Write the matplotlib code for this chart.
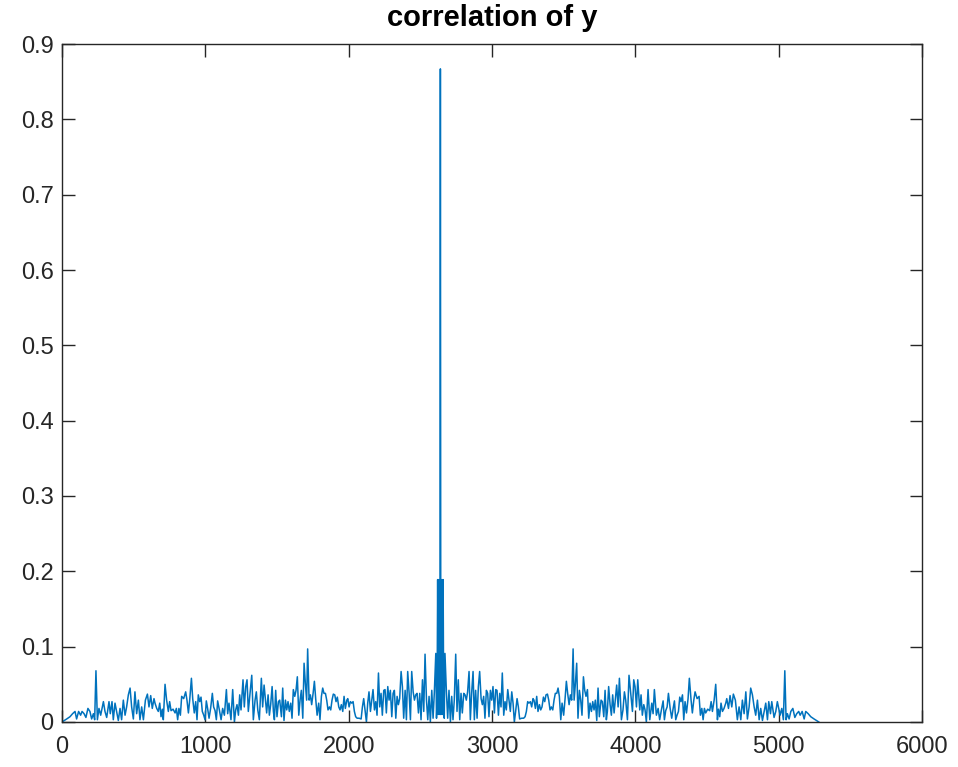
import matplotlib
matplotlib.use("Agg")
import matplotlib.pyplot as plt
import numpy as np

# left half of the autocorrelation (lag, value)
lag_left = [0, 33, 56, 74, 91, 102, 116, 130, 140, 154, 167, 181, 195, 207, 219, 228, 237, 247, 258, 270,
            289, 300, 312, 328, 337, 349, 358, 370, 381, 393, 405, 416, 428, 440, 451, 463, 475, 486, 498, 509,
            521, 533, 544, 556, 568, 582, 596, 607, 619, 630, 642,
            649, 661, 672, 682, 691, 700, 707, 719, 730, 742, 751, 761, 775, 789, 798, 807, 816, 826, 835, 849,
            863, 872, 882, 891, 903, 912, 923, 933, 942, 951, 961, 970, 979, 989, 998, 1007, 1016, 1026, 1037, 1049,
            1058, 1068, 1077, 1086, 1098, 1110, 1121, 1133, 1147, 1156, 1165, 1179, 1191, 1203, 1212, 1221, 1231,
            1240, 1249, 1263, 1272, 1282, 1291, 1300, 1312, 1324,
            1335, 1347, 1356, 1366, 1377, 1391, 1400, 1410, 1419, 1428, 1438, 1447, 1456, 1466, 1475, 1482, 1491,
            1500, 1510, 1519, 1531, 1540, 1549, 1559, 1568, 1577, 1586, 1596, 1605, 1614, 1624, 1633, 1642, 1652,
            1661, 1670, 1680, 1689, 1698, 1707, 1714, 1724, 1733, 1742, 1752, 1761, 1770, 1780, 1791, 1800, 1810,
            1819, 1828, 1838, 1847, 1856, 1866, 1875, 1884, 1893, 1903, 1912, 1921, 1931, 1940, 1949, 1959, 1968,
            1977, 1987,
            1994, 2003, 2012, 2022, 2031, 2040, 2049, 2059, 2073, 2087, 2096, 2105, 2115, 2124, 2133, 2142, 2152,
            2161, 2170, 2180, 2189, 2198, 2208, 2217, 2226, 2235, 2245, 2254, 2263, 2273, 2282, 2291, 2301, 2310,
            2319, 2329, 2338, 2347, 2356, 2366, 2375, 2384, 2394, 2403, 2412, 2422, 2431, 2440, 2450, 2459, 2468,
            2477, 2487, 2496, 2505, 2515, 2524, 2533, 2543, 2552, 2561, 2570, 2580, 2589, 2598, 2608,
            2613, 2617, 2621, 2625, 2629, 2633, 2637]
corr_left = [0, .004, .007, .011, .014, .004, .014, .009, .014, .011, .006, .018, .014, .004, .011, .003, .068, .003,
             .018, .009, .027, .014, .006, .027, .011, .027, .003, .025, .014, .002, .018, .003, .029, .009, .020,
             .036, .045, .020, .004, .040, .011, .029, .003, .020, .003, .029, .037, .020, .035, .018, .031,
             .025, .018, .014, .025, .007, .017, .003, .050, .029, .014, .027, .015, .017, .012, .018, .003, .018,
             .009, .034, .031, .040, .029, .012, .029, .058, .031, .012, .027, .003, .036, .027, .033, .014, .009,
             .003, .028, .018, .005, .018, .038, .020, .015, .003, .028, .016, .003, .018, .009, .043, .011, .025,
             .003, .043, .000, .016, .023, .009, .036, .016, .056, .020, .047, .056, .014, .038, .062,
             .003, .029, .040, .016, .003, .058, .020, .049, .031, .012, .036, .009, .023, .047, .014, .003, .042,
             .007, .027, .029, .007, .045, .002, .029, .016, .027, .014, .025, .005, .043, .034, .042, .060, .009,
             .029, .042, .005, .078, .051, .029, .097, .029, .036, .023, .038, .054, .031, .009, .025, .003, .034,
             .045, .038, .038, .029, .016, .020, .016, .029, .037, .036, .027, .033, .020, .016, .023, .014, .034,
             .018, .029,
             .031, .020, .027, .025, .027, .014, .007, .005, .005, .004, .020, .031, .014, .000, .025, .040, .014,
             .029, .043, .016, .027, .009, .065, .020, .038, .009, .042, .043, .012, .047, .029, .042, .007, .038,
             .042, .005, .034, .023, .031, .067, .047, .005, .042, .003, .067, .038, .003, .067, .040, .029, .036,
             .038, .012, .038, .003, .056, .014, .090, .029, .003, .034, .000, .042, .005, .040, .091,
             .005, .030, .189, .010, .189, .030, .010]
peak_lag = 2640
peak_corr = 0.867
n_total = 5280

# autocorrelation is symmetric about the zero-lag peak
lags = lag_left + [peak_lag] + [n_total - l for l in reversed(lag_left)]
corr = corr_left + [peak_corr] + list(reversed(corr_left))

plt.rcParams['font.family'] = ['Liberation Sans', 'DejaVu Sans']

fig = plt.figure(figsize=(9.58, 7.67), dpi=100)
ax = fig.add_axes([0.0647, 0.0587, 0.8977, 0.8839])
ax.plot(lags, corr, color='#0072BD', lw=1.1)

ax.set_xlim(0, 6000)
ax.set_ylim(0, 0.9)
ax.set_xticks(np.arange(0, 6001, 1000))
ax.set_yticks(np.arange(0, 0.91, 0.1))
ax.set_yticklabels(['0', '0.1', '0.2', '0.3', '0.4', '0.5', '0.6', '0.7', '0.8', '0.9'])
ax.tick_params(direction='in', top=True, right=True, length=9, width=1,
               labelsize=17, colors='#262626')
ax.tick_params(axis='x', pad=10)
ax.tick_params(axis='y', pad=6)
for s in ax.spines.values():
    s.set_color('#262626')
    s.set_linewidth(1)

ax.set_title('correlation of y', fontsize=21, fontweight='bold', pad=13)

fig.savefig('out.png', dpi=100)
